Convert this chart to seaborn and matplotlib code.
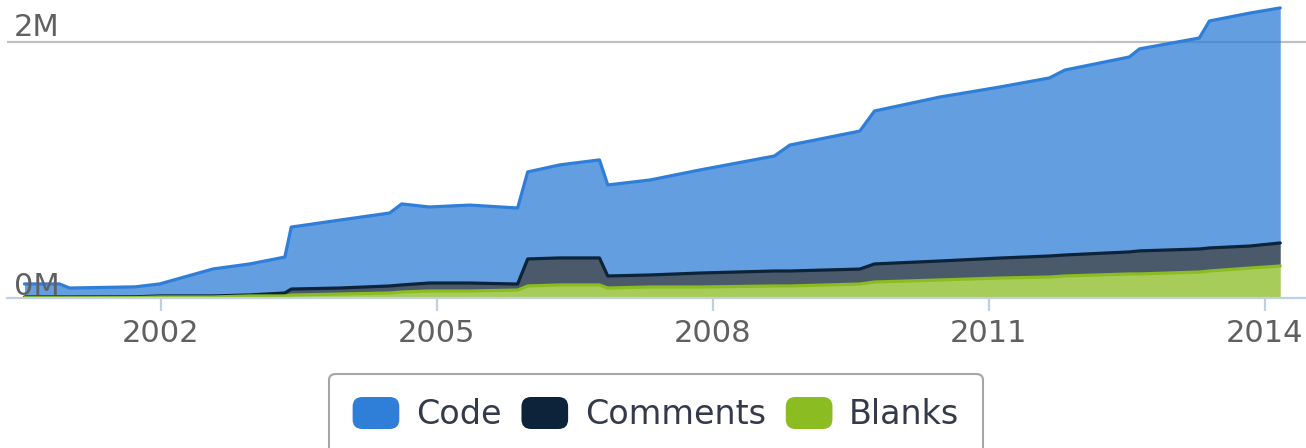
import numpy as np
import matplotlib
matplotlib.use("Agg")
import matplotlib.pyplot as plt
import seaborn as sns
from matplotlib.patches import Patch, FancyBboxPatch
from matplotlib.legend_handler import HandlerPatch

# lines of code over time (thousands)
years = [2000.52, 2000.90, 2001.01, 2001.72, 2001.99, 2002.57, 2002.97, 2003.35,
         2003.42, 2003.95, 2004.49, 2004.62, 2004.92, 2005.36, 2005.88, 2005.99,
         2006.34, 2006.77, 2006.86, 2007.32, 2007.86, 2008.67, 2008.84, 2009.60,
         2009.76, 2010.47, 2011.12, 2011.66, 2011.83, 2012.53, 2012.64, 2013.29,
         2013.40, 2013.84, 2014.17]
code = [102, 102, 70, 78, 94, 211, 242, 281,
        484, 531, 570, 633, 594, 609, 594, 680,
        727, 766, 711, 742, 805, 898, 984, 1078,
        1195, 1281, 1336, 1391, 1445, 1523, 1578, 1648,
        1773, 1820, 1836]
comments = [6, 6, 6, 6, 8, 8, 8, 23,
            47, 47, 55, 55, 62, 62, 47, 211,
            211, 211, 94, 94, 109, 117, 117, 117,
            141, 148, 156, 164, 164, 172, 180, 180,
            180, 172, 180]
blanks = [2, 2, 2, 3, 8, 8, 16, 16,
          23, 31, 39, 47, 55, 55, 62, 94,
          102, 102, 78, 86, 86, 94, 94, 109,
          125, 141, 156, 164, 172, 188, 188, 203,
          211, 234, 250]
series = ["Code", "Comments", "Blanks"]
colors = ["#2f7ed8", "#0d233a", "#8bbc21"]
year_ticks = [2002, 2005, 2008, 2011, 2014]

sns.set_theme(style="white")
plt.rcParams["font.family"] = ["DejaVu Sans"]

fig = plt.figure(figsize=(13.06, 4.48), dpi=100)
ax = fig.add_axes([7 / 1306, 150 / 448, 1299 / 1306, 298 / 448])

x = np.array(years)
b = np.array(blanks) * 1000
c = np.array(comments) * 1000
k = np.array(code) * 1000

ax.stackplot(x, b, c, k, colors=[colors[2], colors[1], colors[0]], alpha=0.75, linewidth=0)
sns.lineplot(x=x, y=b + c + k, ax=ax, color=colors[0], linewidth=2.3)
sns.lineplot(x=x, y=b + c, ax=ax, color=colors[1], linewidth=2.3)
sns.lineplot(x=x, y=b, ax=ax, color=colors[2], linewidth=2.3)

ax.set_xlim(2000.33, 2014.45)
ax.set_ylim(0, 2.328e6)
ax.set_xticks(year_ticks)
ax.set_xticklabels([str(y) for y in year_ticks])
ax.set_yticks([])
ax.axhline(2e6, color="#c0c0c0", linewidth=1.6, zorder=0)
for v, off, lab in [(0, 0.023e6, "0M"), (2e6, 0.047e6, "2M")]:
    ax.text(7 / 1299, v + off, lab, transform=ax.get_yaxis_transform(),
            fontsize=22, color="#606060", ha="left", va="baseline")

for s in ["top", "left", "right"]:
    ax.spines[s].set_visible(False)
ax.spines["bottom"].set_color("#c0d0e0")
ax.spines["bottom"].set_linewidth(1.6)
ax.tick_params(axis="x", bottom=True, length=9, width=1.6, color="#c0d0e0",
               labelsize=22, labelcolor="#606060", pad=6)
ax.set_xlabel("")
ax.set_ylabel("")


def rounded_box(legend, orig_handle, xdescent, ydescent, width, height, fontsize):
    return FancyBboxPatch((-xdescent, -ydescent), width, height,
                          boxstyle="round,pad=0,rounding_size=%f" % (height * 0.3))


handles = [Patch(facecolor=col, edgecolor="none") for col in colors]
leg = fig.legend(handles, series, loc="upper center", bbox_to_anchor=(656 / 1306, 1 - 357 / 448),
                 ncol=3, fontsize=24, frameon=True, fancybox=True, handlelength=1.4,
                 handleheight=1.1, handletextpad=0.5, columnspacing=0.6, borderpad=0.7,
                 handler_map={Patch: HandlerPatch(patch_func=rounded_box)})
leg.get_frame().set_edgecolor("#909090")
leg.get_frame().set_linewidth(1.5)
for t in leg.get_texts():
    t.set_color("#333a4a")

fig.savefig("out.png", dpi=100)
